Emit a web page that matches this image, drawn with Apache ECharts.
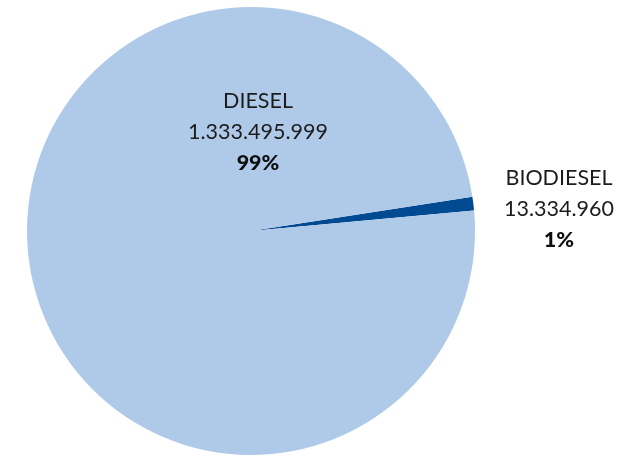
<!DOCTYPE html>
<html>
<head>
<meta charset="utf-8">
<script src="https://cdn.jsdelivr.net/npm/echarts@6/dist/echarts.min.js"></script>
<style>
  html, body { margin: 0; padding: 0; background: #ffffff; }
  #chart { width: 632px; height: 457px; }
</style>
</head>
<body>
<div id="chart"></div>
<script>
// Fuel volumes by type
const categories = ['BIODIESEL', 'DIESEL'];
const volumes = [13334960, 1333495999];
const sliceColors = ['#004a91', '#afcae9'];

// Label anchor points (px) for each slice's text block
const labelAnchors = [[559, 209], [258, 132]];

function formatThousands(v) {
  return String(v).replace(/\B(?=(\d{3})+(?!\d))/g, '.');
}

const chart = echarts.init(document.getElementById('chart'), null, { renderer: 'canvas' });

const sliceStartAngle = 8.8; // degrees, so the small slice sits just above the 3 o'clock line

chart.setOption({
  animation: false,
  backgroundColor: '#ffffff',
  series: [{
    type: 'pie',
    center: [251, 231],
    radius: [0, 224],
    startAngle: sliceStartAngle,
    clockwise: true,
    avoidLabelOverlap: false,
    itemStyle: { borderWidth: 0 },
    emphasis: { disabled: true },
    labelLine: { show: false },
    label: {
      show: true,
      position: 'outside',
      formatter: function (p) {
        return '{n|' + p.name + '}\n{n|' + formatThousands(p.value) + '}\n{b|' + Math.round(p.percent) + '%}';
      },
      rich: {
        n: { fontFamily: 'Lato', fontSize: 21.5, fontWeight: 400, color: '#1c1c1c', lineHeight: 31, align: 'center' },
        b: { fontFamily: 'Lato', fontSize: 21.5, fontWeight: 900, color: '#0d0d0d', lineHeight: 31, align: 'center' }
      }
    },
    labelLayout: function (params) {
      const a = labelAnchors[params.dataIndex];
      return { x: a[0], y: a[1], align: 'center', verticalAlign: 'middle' };
    },
    data: categories.map(function (name, i) {
      return { name: name, value: volumes[i], itemStyle: { color: sliceColors[i] } };
    })
  }]
});
</script>
</body>
</html>
